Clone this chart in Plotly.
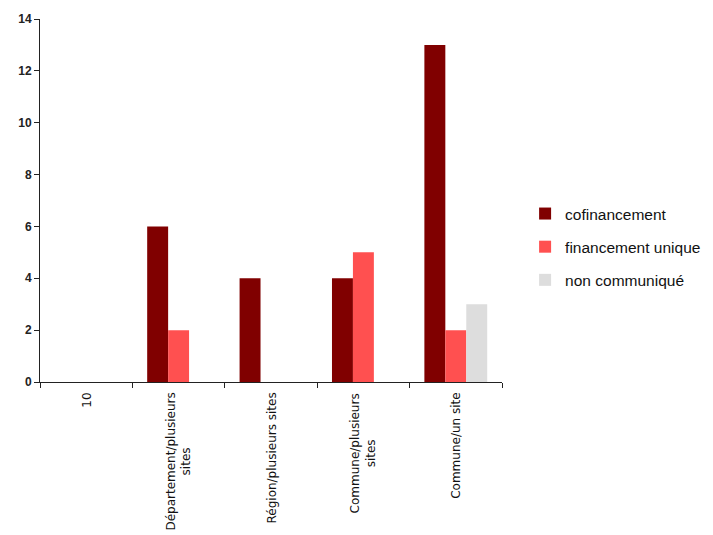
import plotly.graph_objects as go

categories = ["10", "Département/plusieurs sites", "Région/plusieurs sites",
              "Commune/plusieurs sites", "Commune/un site"]
tick_labels = ["10", "Département/plusieurs<br>sites", "Région/plusieurs sites",
               "Commune/plusieurs<br>sites", "Commune/un site"]
cofinancement = [0, 6, 4, 4, 13]
financement_unique = [0, 2, 0, 5, 2]
non_communique = [0, 0, 0, 0, 3]

series = [
    ("cofinancement", cofinancement, "#800000"),
    ("financement unique", financement_unique, "#FF5050"),
    ("non communiqué", non_communique, "#DDDDDD"),
]

fig = go.Figure()
for i, (name, vals, col) in enumerate(series):
    fig.add_trace(go.Bar(x=categories, y=vals, name=name, marker_color=col,
                         marker_line_width=0, legendgroup=str(i)))

for idx, lab in enumerate(tick_labels):
    fig.add_annotation(x=idx, y=0, xref="x", yref="paper", text=lab,
                       textangle=-90, showarrow=False, align="center",
                       xanchor="center", yanchor="top", yshift=-9,
                       font=dict(size=12, color="#111",
                                 family="DejaVu Sans, Liberation Sans, sans-serif"))

fig.update_layout(
    width=713, height=535,
    margin=dict(l=40, r=211, t=19, b=153, autoexpand=False),
    plot_bgcolor="white", paper_bgcolor="white",
    barmode="group", bargap=0.32, bargroupgap=0,
    font=dict(family="Liberation Sans, Arial, sans-serif", color="#222"),
    legend=dict(x=1.05, y=0.372, xanchor="left", yanchor="middle",
                font=dict(size=15.5, color="#111"), tracegroupgap=10),
    showlegend=True,
)
fig.update_xaxes(type="category", categoryorder="array", categoryarray=categories,
                 showline=True, linecolor="#222", linewidth=1,
                 ticks="outside", tickson="boundaries", ticklen=5, tickcolor="#222",
                 showticklabels=False, showgrid=False)
fig.update_yaxes(range=[0, 14], dtick=2, showline=True, linecolor="#222", linewidth=1,
                 ticks="outside", ticklen=5, tickcolor="#222", showgrid=False,
                 zeroline=False,
                 tickfont=dict(size=12, color="#222", family="Liberation Sans, Arial, sans-serif"),
                 tickprefix="<b>", ticksuffix="</b>")

fig.write_html("out.html")
